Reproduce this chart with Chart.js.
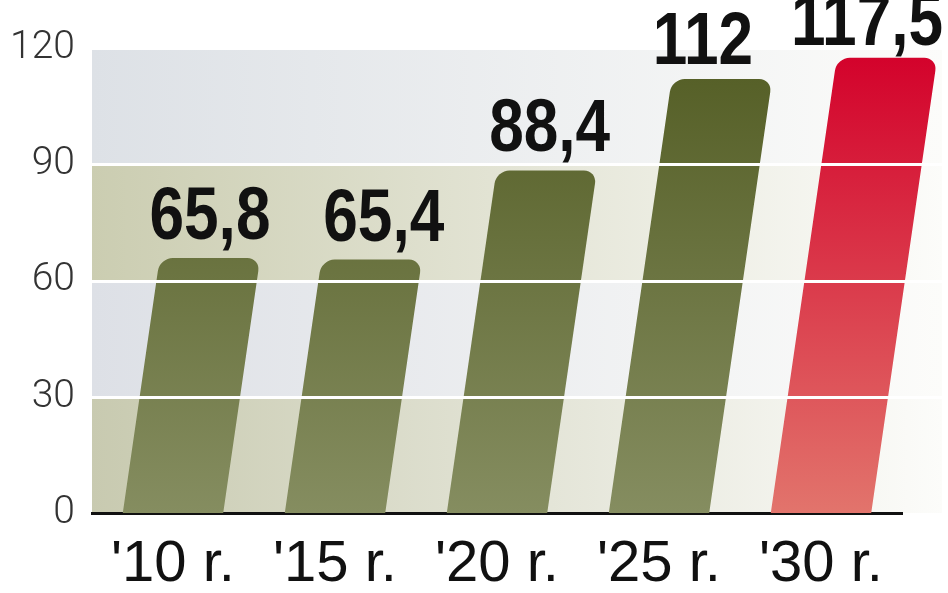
<!DOCTYPE html>
<html>
<head>
<meta charset="utf-8">
<script src="https://cdn.jsdelivr.net/npm/chart.js@4/dist/chart.umd.min.js"></script>
<style>
  html, body { margin: 0; padding: 0; background: #ffffff; }
  #wrap { width: 948px; height: 593px; }
</style>
</head>
<body>
<div id="wrap"><canvas id="chart" width="948" height="593"></canvas></div>
<script>
// data
const years = ["'10 r.", "'15 r.", "'20 r.", "'25 r.", "'30 r."];
const values = [65.8, 65.4, 88.4, 112, 117.5];
const valueLabels = ['65,8', '65,4', '88,4', '112', '117,5'];
const yTicks = [0, 30, 60, 90, 120];

const SLANT = 0.145; // horizontal shift per pixel of height
// small nudges of the value labels (dx, gap above bar) as in the original
const labelDx = [0, 12, 3, -19, -20];
const labelGap = [19, 19, 19, 15, 13];

// horizontal gradient bands behind the bars (bottom to top)
const bandColors = ['#c8cab0', '#dde0e6', '#cbcdb1', '#dde1e6'];

function barGradient(ctx, isRed) {
    const chart = ctx.chart;
    const area = chart.chartArea;
    if (!area) return isRed ? '#d6062c' : '#5a6429';
    const g = chart.ctx.createLinearGradient(0, area.bottom, 0, area.top);
    if (isRed) {
        g.addColorStop(0, '#e2746c');
        g.addColorStop(1, '#d3002a');
    } else {
        g.addColorStop(0, '#858d60');
        g.addColorStop(1, '#535d24');
    }
    return g;
}

const bandsPlugin = {
    id: 'bands',
    beforeDraw(chart) {
        const { ctx, chartArea } = chart;
        const y = chart.scales.y;
        const right = chartArea.right + 40;
        for (let i = 0; i < yTicks.length - 1; i++) {
            const top = y.getPixelForValue(yTicks[i + 1]);
            const bottom = y.getPixelForValue(yTicks[i]);
            const g = ctx.createLinearGradient(chartArea.left, 0, right, 0);
            g.addColorStop(0, bandColors[i]);
            g.addColorStop(1, '#fcfcfa');
            ctx.fillStyle = g;
            ctx.fillRect(chartArea.left, top, right - chartArea.left, bottom - top);
        }
    }
};

// skew the bars so they lean to the right
const slantPlugin = {
    id: 'slant',
    beforeDatasetsDraw(chart) {
        const base = chart.scales.y.getPixelForValue(0);
        chart.ctx.save();
        chart.ctx.transform(1, 0, -SLANT, 1, SLANT * base, 0);
    },
    afterDatasetsDraw(chart) {
        const { ctx, chartArea } = chart;
        ctx.restore();
        const y = chart.scales.y;
        const base = y.getPixelForValue(0);

        // white grid lines over the bars
        ctx.save();
        ctx.strokeStyle = '#ffffff';
        ctx.lineWidth = 3;
        yTicks.slice(1).forEach(t => {
            const py = Math.round(y.getPixelForValue(t)) + 0.5;
            ctx.beginPath();
            ctx.moveTo(chartArea.left, py);
            ctx.lineTo(chartArea.right + 40, py);
            ctx.stroke();
        });
        ctx.restore();

        // value labels above the bar tops, condensed bold
        const squeeze = 0.84;
        ctx.save();
        ctx.fillStyle = '#111111';
        ctx.font = "bold 74px 'Liberation Sans', Arial, sans-serif";
        ctx.textAlign = 'center';
        ctx.textBaseline = 'alphabetic';
        chart.getDatasetMeta(0).data.forEach((el, i) => {
            const x = el.x + SLANT * (base - el.y) + labelDx[i];
            ctx.save();
            ctx.translate(x, el.y - labelGap[i]);
            ctx.scale(squeeze, 1);
            ctx.fillText(valueLabels[i], 0, 0);
            ctx.restore();
        });
        ctx.restore();
    }
};

new Chart(document.getElementById('chart'), {
    type: 'bar',
    data: {
        labels: years,
        datasets: [{
            data: values,
            backgroundColor: (ctx) => barGradient(ctx, ctx.dataIndex === values.length - 1),
            borderRadius: { topLeft: 13, topRight: 13, bottomLeft: 0, bottomRight: 0 },
            borderSkipped: 'bottom',
            barPercentage: 0.62,
            categoryPercentage: 1
        }]
    },
    options: {
        responsive: false,
        animation: false,
        layout: { padding: { top: 48, right: 46, left: 0, bottom: 0 } },
        plugins: {
            legend: { display: false },
            tooltip: { enabled: false }
        },
        scales: {
            x: {
                grid: { display: false, drawTicks: false },
                border: { display: true, color: '#111111', width: 3 },
                ticks: {
                    color: '#111111',
                    padding: 17,
                    font: { family: "'Liberation Sans', Arial, sans-serif", size: 58 }
                },
                afterFit(scale) { scale.height = 80; }
            },
            y: {
                min: 0,
                max: 120,
                grid: { display: false, drawTicks: false },
                border: { display: false },
                ticks: {
                    stepSize: 30,
                    color: '#333333',
                    padding: 17,
                    font: { family: "Roboto, 'Open Sans', sans-serif", size: 39, weight: 300 }
                },
                afterFit(scale) { scale.width = 92; }
            }
        }
    },
    plugins: [bandsPlugin, slantPlugin]
});
</script>
</body>
</html>
